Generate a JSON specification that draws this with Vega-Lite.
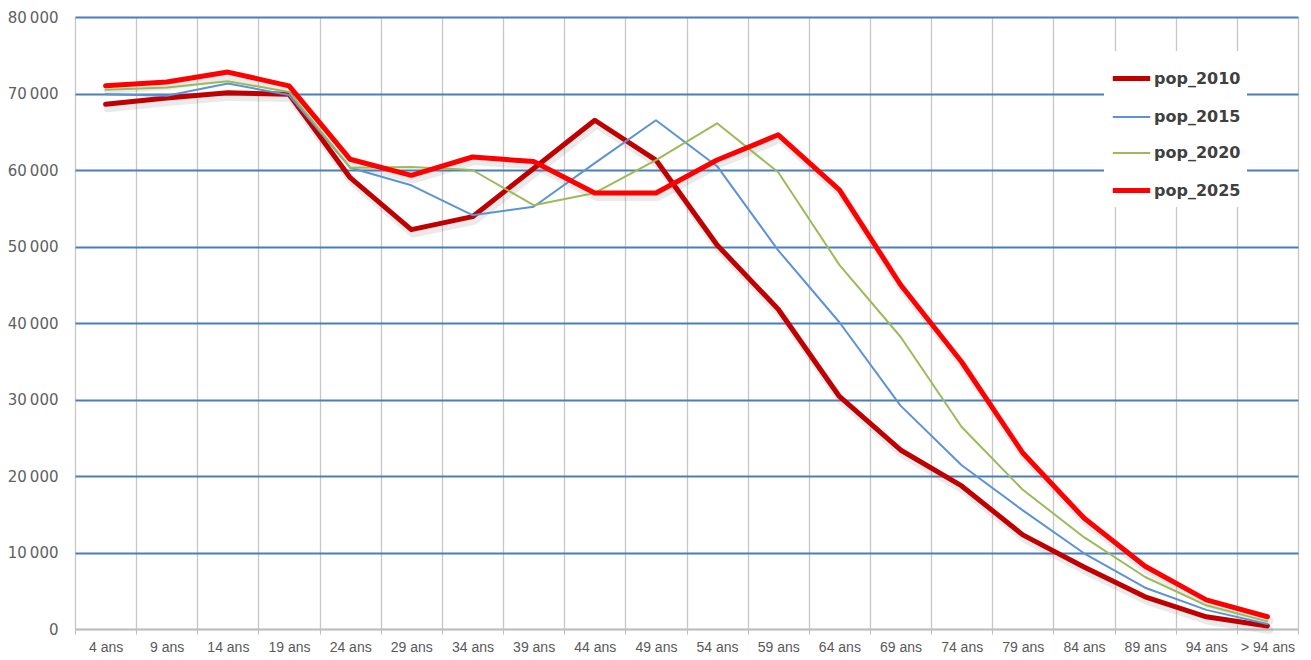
{
  "$schema": "https://vega.github.io/schema/vega-lite/v6.json",
  "autosize": {"type": "none"},
  "width": 1223,
  "height": 612,
  "padding": {"left": 75, "top": 17, "right": 13, "bottom": 31},
  "background": "white",
  "data": {
    "values": [
      {"age": "4 ans", "series": "pop_2010", "pop": 68600},
      {"age": "9 ans", "series": "pop_2010", "pop": 69400},
      {"age": "14 ans", "series": "pop_2010", "pop": 70100},
      {"age": "19 ans", "series": "pop_2010", "pop": 69900},
      {"age": "24 ans", "series": "pop_2010", "pop": 59000},
      {"age": "29 ans", "series": "pop_2010", "pop": 52200},
      {"age": "34 ans", "series": "pop_2010", "pop": 53900},
      {"age": "39 ans", "series": "pop_2010", "pop": 60200},
      {"age": "44 ans", "series": "pop_2010", "pop": 66500},
      {"age": "49 ans", "series": "pop_2010", "pop": 61300},
      {"age": "54 ans", "series": "pop_2010", "pop": 50200},
      {"age": "59 ans", "series": "pop_2010", "pop": 41800},
      {"age": "64 ans", "series": "pop_2010", "pop": 30400},
      {"age": "69 ans", "series": "pop_2010", "pop": 23400},
      {"age": "74 ans", "series": "pop_2010", "pop": 18700},
      {"age": "79 ans", "series": "pop_2010", "pop": 12300},
      {"age": "84 ans", "series": "pop_2010", "pop": 8100},
      {"age": "89 ans", "series": "pop_2010", "pop": 4200},
      {"age": "94 ans", "series": "pop_2010", "pop": 1600},
      {"age": "> 94 ans", "series": "pop_2010", "pop": 400},

      {"age": "4 ans", "series": "pop_2015", "pop": 69900},
      {"age": "9 ans", "series": "pop_2015", "pop": 69700},
      {"age": "14 ans", "series": "pop_2015", "pop": 71300},
      {"age": "19 ans", "series": "pop_2015", "pop": 69800},
      {"age": "24 ans", "series": "pop_2015", "pop": 60300},
      {"age": "29 ans", "series": "pop_2015", "pop": 58000},
      {"age": "34 ans", "series": "pop_2015", "pop": 54100},
      {"age": "39 ans", "series": "pop_2015", "pop": 55200},
      {"age": "44 ans", "series": "pop_2015", "pop": 60900},
      {"age": "49 ans", "series": "pop_2015", "pop": 66500},
      {"age": "54 ans", "series": "pop_2015", "pop": 60500},
      {"age": "59 ans", "series": "pop_2015", "pop": 49500},
      {"age": "64 ans", "series": "pop_2015", "pop": 40100},
      {"age": "69 ans", "series": "pop_2015", "pop": 29200},
      {"age": "74 ans", "series": "pop_2015", "pop": 21400},
      {"age": "79 ans", "series": "pop_2015", "pop": 15500},
      {"age": "84 ans", "series": "pop_2015", "pop": 9900},
      {"age": "89 ans", "series": "pop_2015", "pop": 5400},
      {"age": "94 ans", "series": "pop_2015", "pop": 2500},
      {"age": "> 94 ans", "series": "pop_2015", "pop": 650},

      {"age": "4 ans", "series": "pop_2020", "pop": 70500},
      {"age": "9 ans", "series": "pop_2020", "pop": 70800},
      {"age": "14 ans", "series": "pop_2020", "pop": 71600},
      {"age": "19 ans", "series": "pop_2020", "pop": 70200},
      {"age": "24 ans", "series": "pop_2020", "pop": 60300},
      {"age": "29 ans", "series": "pop_2020", "pop": 60400},
      {"age": "34 ans", "series": "pop_2020", "pop": 60000},
      {"age": "39 ans", "series": "pop_2020", "pop": 55400},
      {"age": "44 ans", "series": "pop_2020", "pop": 57000},
      {"age": "49 ans", "series": "pop_2020", "pop": 61300},
      {"age": "54 ans", "series": "pop_2020", "pop": 66100},
      {"age": "59 ans", "series": "pop_2020", "pop": 59700},
      {"age": "64 ans", "series": "pop_2020", "pop": 47600},
      {"age": "69 ans", "series": "pop_2020", "pop": 38200},
      {"age": "74 ans", "series": "pop_2020", "pop": 26400},
      {"age": "79 ans", "series": "pop_2020", "pop": 18200},
      {"age": "84 ans", "series": "pop_2020", "pop": 12000},
      {"age": "89 ans", "series": "pop_2020", "pop": 6800},
      {"age": "94 ans", "series": "pop_2020", "pop": 3100},
      {"age": "> 94 ans", "series": "pop_2020", "pop": 1000},

      {"age": "4 ans", "series": "pop_2025", "pop": 71000},
      {"age": "9 ans", "series": "pop_2025", "pop": 71500},
      {"age": "14 ans", "series": "pop_2025", "pop": 72800},
      {"age": "19 ans", "series": "pop_2025", "pop": 71000},
      {"age": "24 ans", "series": "pop_2025", "pop": 61400},
      {"age": "29 ans", "series": "pop_2025", "pop": 59300},
      {"age": "34 ans", "series": "pop_2025", "pop": 61700},
      {"age": "39 ans", "series": "pop_2025", "pop": 61100},
      {"age": "44 ans", "series": "pop_2025", "pop": 57000},
      {"age": "49 ans", "series": "pop_2025", "pop": 57000},
      {"age": "54 ans", "series": "pop_2025", "pop": 61300},
      {"age": "59 ans", "series": "pop_2025", "pop": 64600},
      {"age": "64 ans", "series": "pop_2025", "pop": 57400},
      {"age": "69 ans", "series": "pop_2025", "pop": 45000},
      {"age": "74 ans", "series": "pop_2025", "pop": 34900},
      {"age": "79 ans", "series": "pop_2025", "pop": 23000},
      {"age": "84 ans", "series": "pop_2025", "pop": 14500},
      {"age": "89 ans", "series": "pop_2025", "pop": 8200},
      {"age": "94 ans", "series": "pop_2025", "pop": 3800},
      {"age": "> 94 ans", "series": "pop_2025", "pop": 1600}
    ]
  },
  "encoding": {
    "x": {
      "field": "age",
      "type": "nominal",
      "sort": ["4 ans", "9 ans", "14 ans", "19 ans", "24 ans", "29 ans", "34 ans", "39 ans", "44 ans", "49 ans", "54 ans", "59 ans", "64 ans", "69 ans", "74 ans", "79 ans", "84 ans", "89 ans", "94 ans", "> 94 ans"],
      "scale": {"type": "band", "paddingInner": 0, "paddingOuter": 0},
      "axis": {
        "title": null,
        "tickBand": "extent",
        "grid": true,
        "gridColor": "#c6c6c6",
        "gridWidth": 1.3,
        "domain": true,
        "domainColor": "#bfbfbf",
        "domainWidth": 1.5,
        "ticks": true,
        "tickColor": "#bfbfbf",
        "tickSize": 5,
        "labelAngle": 0,
        "labelFont": "Liberation Sans",
        "labelFontSize": 14,
        "labelColor": "#595959",
        "labelPadding": 6
      }
    },
    "y": {
      "field": "pop",
      "type": "quantitative",
      "scale": {"domain": [0, 80000], "nice": false},
      "axis": {
        "title": null,
        "values": [0, 10000, 20000, 30000, 40000, 50000, 60000, 70000, 80000],
        "labelExpr": "replace(format(datum.value, ','), ',', '\u2009')",
        "grid": true,
        "gridColor": {"condition": {"test": "datum.value === 0", "value": "#bfbfbf"}, "value": "#4a7ebb"},
        "gridWidth": 2,
        "domain": false,
        "ticks": false,
        "labelFont": "DejaVu Sans",
        "labelFontSize": 15,
        "labelColor": "#5f5f5f",
        "labelPadding": 17
      }
    }
  },
  "layer": [
    {
      "transform": [{"filter": "datum.series === 'pop_2010' || datum.series === 'pop_2025'"}],
      "mark": {"type": "line", "stroke": "#7a7a7a", "strokeWidth": 8, "opacity": 0.16, "xOffset": 2, "yOffset": 4, "strokeJoin": "round", "strokeCap": "round"},
      "encoding": {"detail": {"field": "series"}}
    },
    {
      "mark": {"type": "line", "strokeJoin": "round", "strokeCap": "round"},
      "encoding": {
        "color": {
          "field": "series",
          "type": "nominal",
          "scale": {"domain": ["pop_2010", "pop_2015", "pop_2020", "pop_2025"], "range": ["#c00000", "#5b93d6", "#9bbb59", "#ff0000"]},
          "legend": {
            "title": null,
            "orient": "none",
            "legendX": 1029,
            "legendY": 34,
            "fillColor": "white",
            "padding": 6,
            "rowPadding": 8,
            "symbolType": "stroke",
            "symbolSize": 1400,
            "labelFont": "DejaVu Sans",
            "labelFontSize": 16,
            "labelFontWeight": "bold",
            "labelColor": "#404040",
            "labelOffset": 1
          }
        },
        "strokeWidth": {
          "field": "series",
          "type": "nominal",
          "scale": {"type": "ordinal", "domain": ["pop_2010", "pop_2015", "pop_2020", "pop_2025"], "range": [5, 2, 2, 5]},
          "legend": {"title": null}
        }
      }
    }
  ]
}
